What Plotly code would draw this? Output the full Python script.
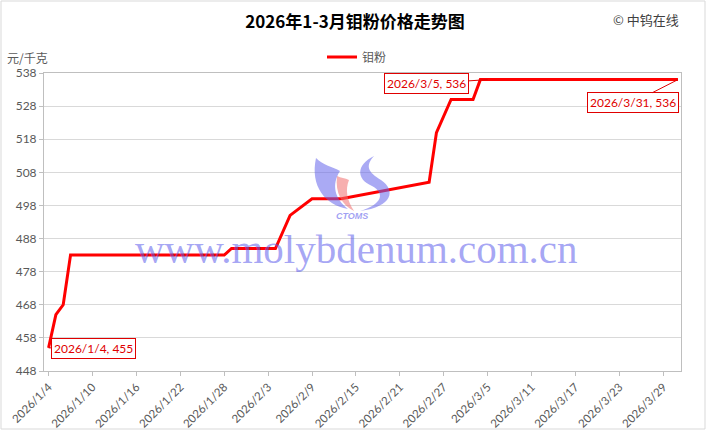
import plotly.graph_objects as go

# ---- data ----
dates = ["2026-01-04", "2026-01-05", "2026-01-06", "2026-01-07", "2026-01-28",
         "2026-01-29", "2026-02-04", "2026-02-05", "2026-02-06", "2026-02-09",
         "2026-02-13", "2026-02-25", "2026-02-26", "2026-02-28", "2026-03-03",
         "2026-03-04", "2026-03-05", "2026-03-31"]
prices = [455, 465, 468, 483, 483,
          485, 485, 490, 495, 500,
          500, 505, 520, 530, 530,
          536, 536, 536]

tick_dates = ["2026-01-04", "2026-01-10", "2026-01-16", "2026-01-22", "2026-01-28",
              "2026-02-03", "2026-02-09", "2026-02-15", "2026-02-21", "2026-02-27",
              "2026-03-05", "2026-03-11", "2026-03-17", "2026-03-23", "2026-03-29"]
tick_labels = ["2026/1/4", "2026/1/10", "2026/1/16", "2026/1/22", "2026/1/28",
               "2026/2/3", "2026/2/9", "2026/2/15", "2026/2/21", "2026/2/27",
               "2026/3/5", "2026/3/11", "2026/3/17", "2026/3/23", "2026/3/29"]
y_ticks = [448, 458, 468, 478, 488, 498, 508, 518, 528, 538]

series_name = "钼粉"
title_text = "2026年1-3月钼粉价格走势图"
unit_text = "元/千克"
copyright_text = "© 中钨在线"
label_dates = ["2026-01-04", "2026-03-05", "2026-03-31"]
label_texts = ["2026/1/4, 455", "2026/3/5, 536", "2026/3/31, 536"]

# ---- layout geometry (pixels) ----
W, H = 710, 432
L, R, T, B = 44, 681, 73, 371


def px(x):
    return (x - L) / (R - L)


def py(y):
    return (B - y) / (B - T)


font_main = "Lato, 'Noto Sans CJK SC', sans-serif"
cjk = "'Noto Sans CJK SC', sans-serif"

fig = go.Figure()
fig.add_trace(go.Scatter(x=dates, y=prices, mode="lines", name=series_name,
                         line=dict(color="#ff0000", width=3), showlegend=True))

# callout labels
offsets = [(45, 1), (-61, 4), (-45, 23)]
for d, t, (ax, ay) in zip(label_dates, label_texts, offsets):
    yv = prices[dates.index(d)]
    fig.add_annotation(x=d, y=yv, xref="x", yref="y", text=t,
                       showarrow=True, arrowhead=0, arrowwidth=1, arrowcolor="#e00000",
                       ax=ax, ay=ay, bgcolor="white", bordercolor="#e00000",
                       borderwidth=1, borderpad=2,
                       font=dict(family=font_main, size=12, color="#e00000"))

# watermark
fig.add_annotation(x=px(356), y=py(249), xref="paper", yref="paper",
                   text="www.molybdenum.com.cn", showarrow=False,
                   font=dict(family="'Liberation Serif', serif", size=41,
                             color="rgba(90,90,235,0.55)"))
fig.add_annotation(x=px(352), y=py(216), xref="paper", yref="paper",
                   text="<b><i>CTOMS</i></b>", showarrow=False,
                   font=dict(family="'Liberation Sans', sans-serif", size=9,
                             color="rgba(95,95,235,0.6)"))


def path(pts):
    s = ""
    for cmd, coords in pts:
        s += cmd + " " + " ".join(f"{px(x):.4f},{py(y):.4f}" for x, y in coords) + " "
    return s + "Z"


logo_blue = "rgba(100,100,235,0.55)"
logo_pink = "rgba(240,110,110,0.55)"
left_shape = path([("M", [(316, 158)]),
                   ("C", [(310, 186), (325, 205), (348, 209)]),
                   ("C", [(335, 199), (331, 185), (340, 171)]),
                   ("C", [(333, 167), (323, 165), (316, 158)])])
pink_shape = path([("M", [(337, 176)]),
                   ("C", [(335, 193), (342, 205), (354, 211)]),
                   ("C", [(347, 200), (345, 190), (349, 180)]),
                   ("C", [(345, 178), (341, 178), (337, 176)])])
right_shape = path([("M", [(374, 156)]),
                    ("C", [(356, 165), (356, 179), (372, 186)]),
                    ("C", [(385, 193), (383, 204), (360, 211)]),
                    ("C", [(393, 207), (396, 190), (381, 180)]),
                    ("C", [(368, 172), (365, 166), (374, 156)])])
for p, c in [(left_shape, logo_blue), (pink_shape, logo_pink), (right_shape, logo_blue)]:
    fig.add_shape(type="path", path=p, xref="paper", yref="paper",
                  fillcolor=c, line=dict(width=0), layer="above")

# chart border
fig.add_shape(type="rect", xref="paper", yref="paper",
              x0=px(1), x1=px(705), y0=py(429), y1=py(1),
              line=dict(color="#d9d9d9", width=1), fillcolor="rgba(0,0,0,0)", layer="below")

# text items
fig.add_annotation(x=px(5), y=py(57), xref="paper", yref="paper", text=unit_text,
                   showarrow=False, xanchor="left", yanchor="middle",
                   font=dict(family=cjk, size=12, color="#595959"))
fig.add_annotation(x=px(681), y=py(20), xref="paper", yref="paper", text=copyright_text,
                   showarrow=False, xanchor="right", yanchor="middle",
                   font=dict(family=cjk, size=13, color="#404040"))

fig.update_layout(
    width=W, height=H,
    margin=dict(l=L, r=W - R, t=T, b=H - B, pad=0, autoexpand=False),
    paper_bgcolor="white", plot_bgcolor="white",
    title=dict(text="<b>" + title_text + "</b>", x=0.5, xanchor="center",
               y=1 - 22 / H, yanchor="middle", yref="container",
               font=dict(family=cjk, size=17, color="#000000")),
    legend=dict(orientation="h", x=px(322), y=py(57), xanchor="left", yanchor="middle",
                font=dict(family=cjk, size=12, color="#595959"),
                bgcolor="rgba(0,0,0,0)", itemwidth=30),
    xaxis=dict(type="date", range=["2026-01-03 09:00", "2026-03-31 10:00"],
               tickvals=tick_dates, ticktext=tick_labels, tickangle=-45,
               ticks="outside", ticklen=4, tickcolor="#bfbfbf",
               showgrid=False, showline=True, linecolor="#bfbfbf", linewidth=1,
               mirror=True, zeroline=False, automargin=False,
               tickfont=dict(family=font_main, size=11.5, color="#595959")),
    yaxis=dict(range=[448, 538], tickvals=y_ticks,
               ticks="outside", ticklen=4, tickcolor="#bfbfbf",
               showgrid=True, gridcolor="#d9d9d9", gridwidth=1,
               showline=True, linecolor="#bfbfbf", linewidth=1, mirror=True,
               zeroline=False, automargin=False,
               tickfont=dict(family=font_main, size=12, color="#595959")),
)

fig.write_html("out.html")
